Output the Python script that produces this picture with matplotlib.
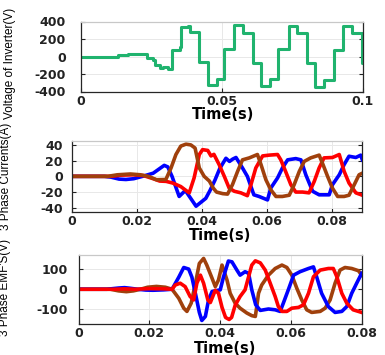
import matplotlib
matplotlib.use('Agg')
import matplotlib.pyplot as plt

plt.rcParams['axes.unicode_minus'] = False

# inverter voltage (stepped)
t_inv = [0.0, 0.004, 0.008, 0.0121, 0.0130, 0.0166, 0.0227, 0.0233, 0.0257, 0.0263, 0.0280,
         0.0292, 0.0308, 0.0322, 0.0350, 0.0355, 0.0380, 0.0387, 0.0418, 0.0450, 0.0482,
         0.0508, 0.0543, 0.0576, 0.0609, 0.0638, 0.0671, 0.0700, 0.0736, 0.0766, 0.0801,
         0.0831, 0.0863, 0.0896, 0.0929, 0.0961, 0.0996, 0.1000]
v_inv = [0, -3, -6, -10, 15, 30, 25, -12, -38, -96, -134,
         -115, -140, 77, 105, 340, 350, 285, -60, -330, -260,
         85, 355, 270, -69, -339, -261, 85, 350, 268, -75,
         -350, -265, 80, 345, 268, -70, -70]

# 3 phase currents
t_ia = [0, 0.010, 0.012, 0.0145, 0.0166, 0.019, 0.0217, 0.025, 0.0284, 0.0295, 0.0308,
        0.033, 0.0349, 0.0382, 0.0412, 0.0425, 0.0440, 0.0455, 0.0474, 0.0485, 0.0495,
        0.0505, 0.0525, 0.054, 0.056, 0.0576, 0.0602, 0.0612, 0.0633, 0.0648, 0.0664,
        0.0689, 0.0705, 0.072, 0.0741, 0.0761, 0.0792, 0.0802, 0.0823, 0.0838, 0.0853,
        0.0874, 0.0889, 0.0894]
ia = [0, 0, -1, -3.5, -4, -3, 0, 4, 14, 12, 0,
      -25.6, -18, -38, -28, -18, -5, 10, 23, 19, 22,
      24, 10.7, 0, -23.5, -25.6, -30, -15, -2, 10.7, 21,
      22.6, 21, 2, -19, -23.5, -23.5, -10.7, 2, 15, 25.6,
      24, 27, 21]

t_ib = [0, 0.012, 0.015, 0.019, 0.022, 0.025, 0.027, 0.029, 0.031, 0.0335, 0.0351,
        0.0361, 0.0376, 0.0392, 0.0402, 0.0418, 0.0428, 0.0437, 0.0453, 0.0469, 0.0484,
        0.05, 0.052, 0.054, 0.0551, 0.0566, 0.0587, 0.0607, 0.0633, 0.0643, 0.0658,
        0.0674, 0.0689, 0.071, 0.073, 0.0746, 0.0761, 0.0776, 0.0802, 0.0823, 0.0838,
        0.0853, 0.0874, 0.0894]
ib = [0, 0, 1.5, 2, 1, -3, -6, -6.4, -8.5, -13, -18,
      -21, -2, 27.8, 34, 33, 26, 28, 15, 0, -15,
      -19, -21, -24.6, -10.7, 10.7, 26, 27, 27.8, 21, 6,
      -10.7, -20, -20, -21, -6.4, 10.7, 23.5, 24, 27.8, 6.4,
      -8.5, -21, -24]

t_ic = [0, 0.011, 0.014, 0.018, 0.021, 0.0235, 0.026, 0.0289, 0.0305, 0.032, 0.0335,
        0.0351, 0.0366, 0.0379, 0.0392, 0.0407, 0.0423, 0.0435, 0.0445, 0.0464, 0.0479,
        0.0494, 0.051, 0.0525, 0.0546, 0.0571, 0.0582, 0.0597, 0.0612, 0.0628, 0.0648,
        0.0669, 0.0684, 0.07, 0.0715, 0.0735, 0.0761, 0.0771, 0.0787, 0.0802, 0.0818,
        0.0838, 0.0853, 0.0869, 0.0884, 0.0894]
ic = [0, 0, 2, 3, 2, 0, -4.3, -4, 10.7, 27.8, 38.5,
      41, 40, 36, 10.7, 0, -6, -15, -20, -22, -22.6,
      -10.7, 6.4, 21, 23.5, 27.8, 15, -4.3, -17, -25.6, -25.6,
      -24, -10.7, 6.4, 19, 23.5, 27, 17, 0, -15, -25.6,
      -25.6, -24, -10.7, 2, 4]

# 3 phase EMFs
t_ea = [0, 0.008, 0.0113, 0.013, 0.0145, 0.0167, 0.019, 0.021, 0.024, 0.0264,
        0.0283, 0.0297, 0.0311, 0.032, 0.0331, 0.0341, 0.0348, 0.0358, 0.0367, 0.0377,
        0.0391, 0.04, 0.0409, 0.0423, 0.0433, 0.0447, 0.0456, 0.047, 0.048, 0.0489,
        0.05, 0.0513, 0.0536, 0.0555, 0.0569, 0.0578, 0.0592, 0.0607, 0.0625, 0.0649,
        0.0663, 0.0672, 0.0686, 0.0705, 0.0724, 0.0743, 0.0757, 0.0771, 0.0785, 0.0799]
ea = [0, 0, 6, 8, 5, 0, -4, -5, -3, 0,
      60, 108, 100, 60, -30, -115, -155, -135, -53, -11,
      -6, -3, 60, 140, 136, 95, 70, 87, 79, -3,
      -77, -105, -98, -102, -110, -69, -3, 70, 87, 103,
      111, 62, -20, -86, -115, -110, -86, -20, 30, 79]

t_eb = [0, 0.01, 0.013, 0.016, 0.02, 0.024, 0.0264, 0.0273, 0.0287, 0.0301,
        0.0315, 0.0325, 0.0334, 0.0344, 0.0353, 0.0365, 0.0372, 0.0386, 0.0395, 0.0405,
        0.0415, 0.0425, 0.0432, 0.0442, 0.0456, 0.047, 0.048, 0.0489, 0.0499, 0.0513,
        0.0527, 0.0541, 0.0555, 0.0564, 0.0574, 0.0588, 0.0602, 0.0621, 0.0635, 0.0649,
        0.0663, 0.0682, 0.0705, 0.0719, 0.0729, 0.0743, 0.0757, 0.0775, 0.0799]
eb = [0, 0, 2, 0, 3, 2, 0, 21, 30, 13,
      -36, -53, 30, 70, 30, -53, -66, -5, -20, -90,
      -140, -150, -140, -80, -36, -3, 62, 120, 141, 131,
      95, 30, -36, -86, -110, -110, -94, -90, -77, -20,
      62, 95, 103, 103, 62, -20, -69, -102, -115]

t_ec = [0, 0.009, 0.0113, 0.0135, 0.0155, 0.0175, 0.0195, 0.022, 0.0245, 0.0264,
        0.0283, 0.0297, 0.0306, 0.0318, 0.033, 0.0341, 0.0353, 0.0362, 0.0377, 0.0386,
        0.0395, 0.0405, 0.0419, 0.0428, 0.0442, 0.0456, 0.0475, 0.0489, 0.0499, 0.0503,
        0.0508, 0.0517, 0.0536, 0.0555, 0.0574, 0.0588, 0.0602, 0.0616, 0.063, 0.0644,
        0.0658, 0.0682, 0.0696, 0.071, 0.0724, 0.0738, 0.0752, 0.0771, 0.079, 0.0799]
ec = [0, 0, -8, -12, -8, 0, 10, 14, 10, 0,
      -45, -94, -110, -69, 30, 128, 153, 120, 54, 13,
      46, 120, 46, -20, -69, -94, -118, -131, -135, -86,
      -20, 21, 70, 103, 120, 108, 70, 5, -53, -102,
      -115, -110, -94, -53, 30, 95, 108, 103, 92, 70]

xt1 = [0, 0.05, 0.1]
xl1 = ['0', '0.05', '0.1']
yt1 = [-400, -200, 0, 200, 400]
xt2 = [0, 0.02, 0.04, 0.06, 0.08]
xl2 = ['0', '0.02', '0.04', '0.06', '0.08']
yt2 = [-40, -20, 0, 20, 40]
yt3 = [-100, 0, 100]

W, H = 385.0, 355.0
fig = plt.figure(figsize=(3.85, 3.55), dpi=100)
ax1 = fig.add_axes([81 / W, 1 - 91.5 / H, 282 / W, 70 / H])
ax2 = fig.add_axes([72 / W, 1 - 211.7 / H, 290 / W, 70.7 / H])
ax3 = fig.add_axes([78.5 / W, 1 - 323.5 / H, 283.5 / W, 68.5 / H])

brown = '#a0400c'
ax1.plot(t_inv, v_inv, drawstyle='steps-post', color='#20b36e', lw=2.2)
ax2.plot(t_ia, ia, color='#0000ff', lw=2.6)
ax2.plot(t_ib, ib, color='#ff0000', lw=2.6)
ax2.plot(t_ic, ic, color=brown, lw=2.6)
ax3.plot(t_ec, ec, color=brown, lw=2.6)
ax3.plot(t_ea, ea, color='#0000ff', lw=2.6)
ax3.plot(t_eb, eb, color='#ff0000', lw=2.6)

ax1.set_xlim(0, 0.1)
ax1.set_ylim(-400, 400)
ax2.set_xlim(0, 0.0893)
ax2.set_ylim(-45, 45)
ax3.set_xlim(0, 0.08)
ax3.set_ylim(-170, 170)

ax1.set_xticks(xt1)
ax1.set_xticklabels(xl1)
ax1.set_yticks(yt1)
ax2.set_xticks(xt2)
ax2.set_xticklabels(xl2)
ax2.set_yticks(yt2)
ax3.set_xticks(xt2)
ax3.set_xticklabels(xl2)
ax3.set_yticks(yt3)

ylabels = ['Voltage of Inverter(V)', '3 Phase Currents(A)', "3 Phase EMF'S(V)"]
ylab_pos = [(-0.23, 0.40), (-0.207, 0.505), (-0.237, 0.52)]
xlab_pos = [(0.505, -0.225), (0.51, -0.232), (0.516, -0.255)]
ypads = [11, 6.5, 8]

for ax, lab, yp, xp, pad in zip([ax1, ax2, ax3], ylabels, ylab_pos, xlab_pos, ypads):
    ax.grid(True, color='#e8e8e8', lw=0.7)
    ax.set_axisbelow(True)
    ax.tick_params(direction='in', length=3, width=0.8, top=False, right=True,
                   labelsize=9, colors='#222222')
    ax.tick_params(axis='y', pad=pad)
    ax.tick_params(axis='x', pad=2.5)
    for tl in ax.get_xticklabels() + ax.get_yticklabels():
        tl.set_fontweight('bold')
    for s in ['left', 'bottom', 'right']:
        ax.spines[s].set_color('#262626')
        ax.spines[s].set_linewidth(0.9)
    ax.spines['top'].set_color('#c8c8c8')
    ax.spines['top'].set_linewidth(0.9)
    ax.set_xlabel('Time(s)', fontsize=10.5, fontweight='bold')
    ax.xaxis.set_label_coords(*xp)
    ax.set_ylabel(lab, fontsize=8.5, family='Liberation Sans')
    ax.yaxis.set_label_coords(*yp)

fig.savefig('out.png', dpi=100)
